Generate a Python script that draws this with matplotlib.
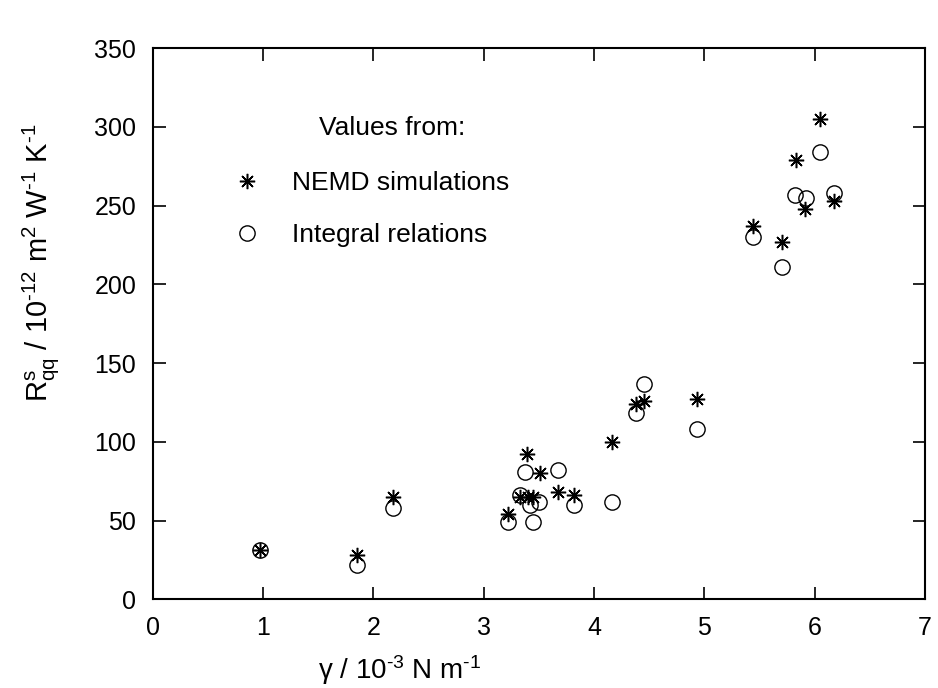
import matplotlib
matplotlib.use("Agg")
import matplotlib.pyplot as plt

plt.rcParams['font.family'] = ['Liberation Sans', 'DejaVu Sans']
plt.rcParams['mathtext.fontset'] = 'custom'
plt.rcParams['mathtext.rm'] = 'Liberation Sans'
plt.rcParams['mathtext.it'] = 'Liberation Sans'

# --- valores ---
nemd_x = [0.97, 1.85, 2.18, 3.22, 3.33, 3.40, 3.45, 3.39, 3.51, 3.67, 3.82,
          4.16, 4.38, 4.45, 4.93, 5.44, 5.70, 5.83, 5.91, 6.05, 6.18]
nemd_y = [31, 28, 65, 54, 65, 65, 65, 92, 80, 68, 66,
          100, 124, 126, 127, 237, 227, 279, 248, 305, 253]

integ_x = [0.97, 1.85, 2.18, 3.22, 3.33, 3.42, 3.50, 3.45, 3.37, 3.67, 3.82,
           4.16, 4.38, 4.45, 4.93, 5.44, 5.70, 5.82, 5.92, 6.05, 6.18]
integ_y = [31, 22, 58, 49, 66, 60, 62, 49, 81, 82, 60,
           62, 118, 137, 108, 230, 211, 257, 255, 284, 258]

fig = plt.figure(figsize=(9.38, 6.88), dpi=100)
ax = fig.add_axes([0.163, 0.129, 0.823, 0.801])

ax.plot(nemd_x, nemd_y, linestyle='none', marker=(8, 2, 0), markersize=11,
        markeredgewidth=1.1, color='black', label='NEMD simulations')
ax.plot(integ_x, integ_y, linestyle='none', marker='o', markersize=11,
        markerfacecolor='none', markeredgewidth=1.0, color='black',
        label='Integral relations')

ax.set_xlim(0, 7)
ax.set_ylim(0, 350)
ax.set_xticks(range(0, 8))
ax.set_yticks(range(0, 351, 50))
ax.tick_params(direction='in', length=9, width=1.2, top=True, right=True,
               labelsize=18, pad=12)
for s in ax.spines.values():
    s.set_linewidth(1.5)

ax.set_xlabel(r'γ / 10$^{\text{-3}}$ N m$^{\text{-1}}$', fontsize=20)
ax.xaxis.set_label_coords(0.32, -0.098)
ax.set_ylabel(r'R$^{\text{s}}_{\text{qq}}$ / 10$^{\text{-12}}$ m$^{\text{2}}$ '
              r'W$^{\text{-1}}$ K$^{\text{-1}}$', fontsize=21)
ax.yaxis.set_label_coords(-0.118, 0.61)

# título da legenda como texto solto (no original fica deslocado à direita)
ax.text(0.31, 0.855, 'Values from:', transform=ax.transAxes,
        ha='center', va='center', fontsize=19)
leg = ax.legend(loc='center left', bbox_to_anchor=(0.057, 0.708), frameon=False,
                fontsize=19, handletextpad=0.7, labelspacing=1.08,
                markerfirst=True)

fig.savefig('out.png', dpi=100)
